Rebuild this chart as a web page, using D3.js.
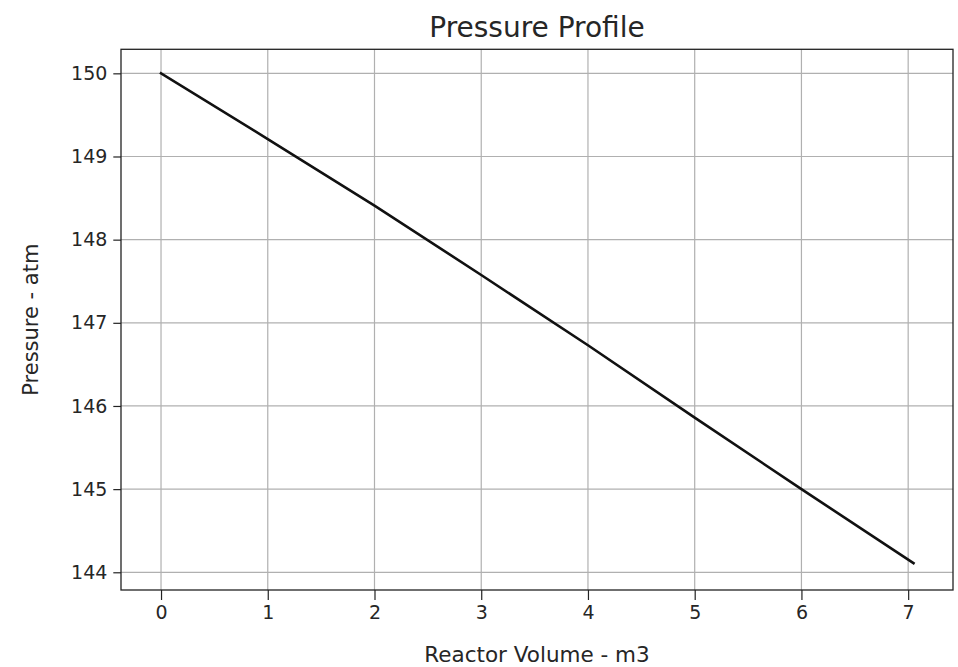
<!DOCTYPE html>
<html><head><meta charset="utf-8">
<script src="https://cdn.jsdelivr.net/npm/d3@7"></script>
<style>body{margin:0;background:#fff;} text{font-family:"DejaVu Sans",sans-serif;fill:#262626;}</style>
</head><body><svg id="c" width="958" height="667"></svg>
<script>
const volume = [0, 1, 2, 3, 4, 5, 6, 7.05];
const pressure = [150, 149.21, 148.41, 147.575, 146.73, 145.86, 145.0, 144.11];
const xTicks = [0, 1, 2, 3, 4, 5, 6, 7];
const yTicks = [144, 145, 146, 147, 148, 149, 150];
const title = "Pressure Profile";
const xLabel = "Reactor Volume - m3";
const yLabel = "Pressure - atm";

const svg = d3.select("#c");
const L = 121, R = 953, T = 49.3, B = 590;
const x = d3.scaleLinear().domain([-0.375, 7.42]).range([L, R]);
const y = d3.scaleLinear().domain([143.787, 150.289]).range([B, T]);

// grid
svg.append("g").selectAll("line").data(xTicks).join("line")
  .attr("x1", d => x(d)).attr("x2", d => x(d)).attr("y1", T).attr("y2", B)
  .attr("stroke", "#b0b0b0").attr("stroke-width", 1.2);
svg.append("g").selectAll("line").data(yTicks).join("line")
  .attr("y1", d => y(d)).attr("y2", d => y(d)).attr("x1", L).attr("x2", R)
  .attr("stroke", "#b0b0b0").attr("stroke-width", 1.2);

// line
svg.append("path").datum(volume.map((v, i) => [v, pressure[i]]))
  .attr("d", d3.line().x(d => x(d[0])).y(d => y(d[1])))
  .attr("fill", "none").attr("stroke", "#111").attr("stroke-width", 2.6)
  .attr("stroke-linecap", "square");

// axes
const xAxis = svg.append("g").attr("transform", `translate(0,${B})`)
  .call(d3.axisBottom(x).tickValues(xTicks).tickSize(10).tickPadding(6).tickFormat(d3.format("d")));
const yAxis = svg.append("g").attr("transform", `translate(${L},0)`)
  .call(d3.axisLeft(y).tickValues(yTicks).tickSize(7.7).tickPadding(6).tickFormat(d3.format("d")));
[xAxis, yAxis].forEach(a => {
  a.select(".domain").remove();
  a.selectAll("line").attr("stroke", "#222").attr("stroke-width", 1.2);
  a.selectAll("text").attr("font-size", 19).attr("fill", "#262626");
});
svg.append("rect").attr("x", L).attr("y", T).attr("width", R - L).attr("height", B - T)
  .attr("fill", "none").attr("stroke", "#222").attr("stroke-width", 1.3);

svg.append("text").attr("x", (L + R) / 2).attr("y", 37).attr("text-anchor", "middle")
  .attr("font-size", 28).text(title);
svg.append("text").attr("x", (L + R) / 2).attr("y", 662).attr("text-anchor", "middle")
  .attr("font-size", 21.5).text(xLabel);
svg.append("text").attr("transform", `translate(38,${(T + B) / 2}) rotate(-90)`).attr("text-anchor", "middle")
  .attr("font-size", 21).text(yLabel);
</script></body></html>
